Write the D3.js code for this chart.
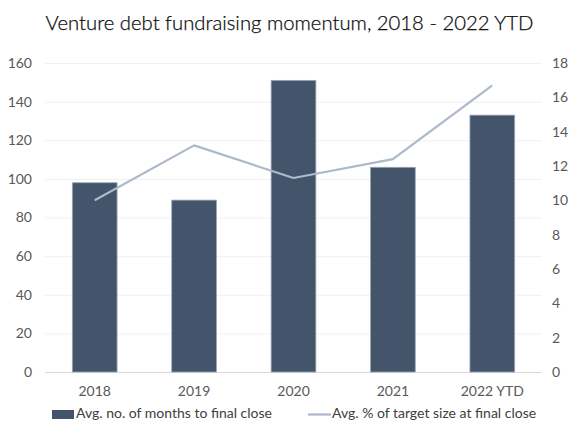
<!DOCTYPE html>
<html><head><meta charset="utf-8">
<script src="https://cdn.jsdelivr.net/npm/d3@7"></script>
<style>body{margin:0;background:#fff}svg{display:block}text{font-family:Lato,"Open Sans",sans-serif}</style>
</head><body><svg id="c" width="580" height="435"></svg>
<script>
const categories = ["2018","2019","2020","2021","2022 YTD"];
const monthsValues = [98, 89, 151, 106, 133];
const pctValues = [10.0, 13.2, 11.3, 12.4, 16.7];
const leftTicks = [0,20,40,60,80,100,120,140,160];
const rightTicks = [0,2,4,6,8,10,12,14,16,18];
const title = "Venture debt fundraising momentum, 2018 - 2022 YTD";
const legendLabels = ["Avg. no. of months to final close","Avg. % of target size at final close"];

const svg = d3.select("#c");
const m = {l:45, r:542, t:63, b:372};
const x = d3.scaleBand().domain(categories).range([m.l, m.r]).paddingInner(0.55).paddingOuter(0.275);
const yL = d3.scaleLinear().domain([0,160]).range([m.b, m.t]);
const yR = d3.scaleLinear().domain([0,18]).range([m.b, m.t]);

svg.append("text").attr("x",289.5).attr("y",30).attr("text-anchor","middle")
  .attr("font-size",20.3).attr("font-weight",300).attr("fill","#0d0d0d")
  .attr("stroke","#0d0d0d").attr("stroke-width",0.25).text(title);

// gridlines
svg.append("g").selectAll("line").data(leftTicks).join("line")
  .attr("x1",m.l).attr("x2",m.r).attr("y1",d=>yL(d)+0.5).attr("y2",d=>yL(d)+0.5)
  .attr("stroke",d=>d===0?"#d9d9d9":"#f0f0f0").attr("stroke-width",1);

const tickFont = 14;
// left axis
const ga = svg.append("g").attr("transform",`translate(${m.l-13},0)`)
  .call(d3.axisLeft(yL).tickValues(leftTicks).tickSize(0).tickPadding(0));
ga.select(".domain").remove();
ga.selectAll("text").attr("font-size",tickFont).attr("fill","#595959").attr("font-family","Lato,sans-serif");

// right axis
const gr = svg.append("g").attr("transform",`translate(${m.r+10},0)`)
  .call(d3.axisRight(yR).tickValues(rightTicks).tickSize(0).tickPadding(0));
gr.select(".domain").remove();
gr.selectAll("text").attr("font-size",tickFont).attr("fill","#595959").attr("font-family","Lato,sans-serif");

// x axis
const gx = svg.append("g").attr("transform",`translate(0,${m.b})`)
  .call(d3.axisBottom(x).tickSize(0).tickPadding(0));
gx.select(".domain").remove();
gx.selectAll("text").attr("font-size",tickFont).attr("fill","#595959").attr("font-family","Lato,sans-serif")
  .attr("y",24).attr("dy",0);

// bars
svg.append("g").selectAll("rect").data(monthsValues).join("rect")
  .attr("x",(d,i)=>x(categories[i])).attr("width",x.bandwidth())
  .attr("y",d=>yL(d)).attr("height",d=>yL(0)-yL(d))
  .attr("fill","#44546a").attr("stroke","#9aa6b8").attr("stroke-width",0.8);

// line
const line = d3.line().x((d,i)=>x(categories[i])+x.bandwidth()/2).y(d=>yR(d));
svg.append("path").datum(pctValues).attr("d",line).attr("fill","none")
  .attr("stroke","#adb9ca").attr("stroke-width",2.2).attr("stroke-linejoin","round");

// legend
const lg = svg.append("g");
lg.append("rect").attr("x",52).attr("y",410).attr("width",22).attr("height",9).attr("fill","#44546a");
lg.append("text").attr("x",76).attr("y",418).attr("font-size",14).attr("fill","#404040").text(legendLabels[0]);
lg.append("line").attr("x1",308).attr("x2",331).attr("y1",414.5).attr("y2",414.5).attr("stroke","#adb9ca").attr("stroke-width",2.2);
lg.append("text").attr("x",332).attr("y",418).attr("font-size",14).attr("fill","#404040").text(legendLabels[1]);
</script></body></html>
